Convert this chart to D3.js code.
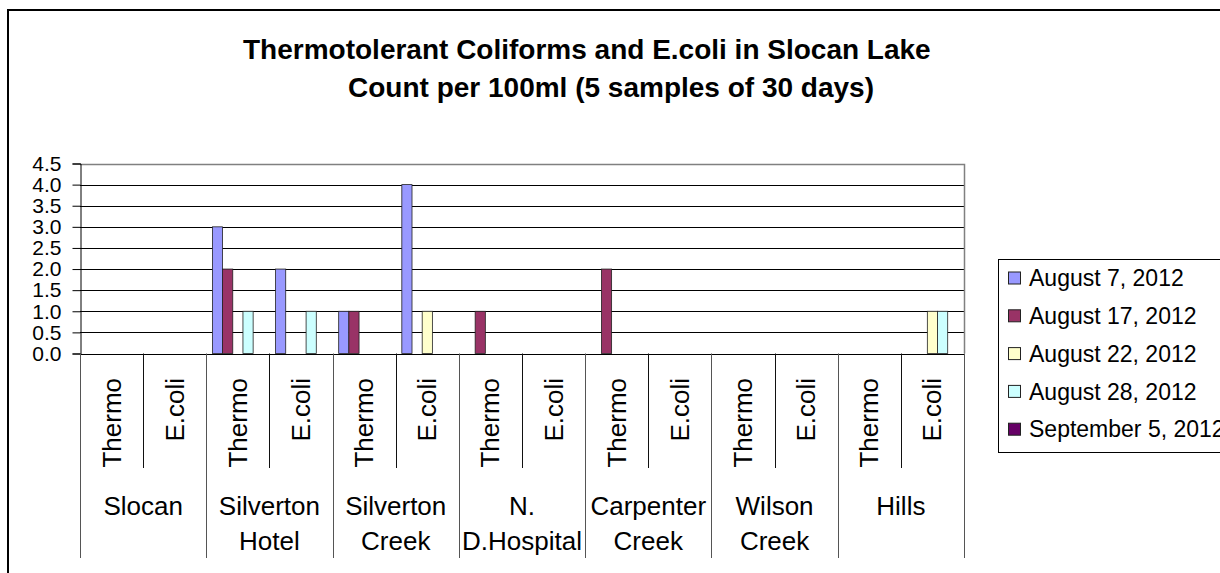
<!DOCTYPE html>
<html>
<head>
<meta charset="utf-8">
<style>
  body { margin: 0; background: #fff; }
  svg { font-family: "Liberation Sans", Arial, sans-serif; }
</style>
</head>
<body>
<svg width="1220" height="573"></svg>
<script src="https://cdnjs.cloudflare.com/ajax/libs/d3/7.8.5/d3.min.js"></script>
<script>
// data
var sites = [["Slocan"], ["Silverton", "Hotel"], ["Silverton", "Creek"], ["N.", "D.Hospital"],
             ["Carpenter", "Creek"], ["Wilson", "Creek"], ["Hills"]];
var measures = ["Thermo", "E.coli"];
var seriesNames = ["August 7, 2012", "August 17, 2012", "August 22, 2012", "August 28, 2012", "September 5, 2012"];
// one value per slot: site x measure (Thermo, E.coli)
var aug7  = [0, 0, 3, 2, 1, 4, 0, 0, 0, 0, 0, 0, 0, 0];
var aug17 = [0, 0, 2, 0, 1, 0, 1, 0, 2, 0, 0, 0, 0, 0];
var aug22 = [0, 0, 0, 0, 0, 1, 0, 0, 0, 0, 0, 0, 0, 1];
var aug28 = [0, 0, 1, 1, 0, 0, 0, 0, 0, 0, 0, 0, 0, 1];
var sep5  = [0, 0, 0, 0, 0, 0, 0, 0, 0, 0, 0, 0, 0, 0];
var yTicks = [0, 0.5, 1, 1.5, 2, 2.5, 3, 3.5, 4, 4.5];
var titleLines = ["Thermotolerant Coliforms and E.coli in Slocan Lake", "Count per 100ml (5 samples of 30 days)"];

var allSeries = [aug7, aug17, aug22, aug28, sep5];
var colors = ["#9999ff", "#993366", "#ffffcc", "#ccffff", "#660066"];

var svg = d3.select("svg");

// outer chart frame (runs off the right and bottom of the picture)
svg.append("rect")
  .attr("x", 8).attr("y", 10)
  .attr("width", 1400).attr("height", 800)
  .attr("fill", "#fff")
  .attr("stroke", "#000")
  .attr("stroke-width", 2);

// title
svg.append("text")
  .attr("x", 243).attr("y", 59)
  .style("font-size", "28px").style("font-weight", "bold")
  .text(titleLines[0]);
svg.append("text")
  .attr("x", 348).attr("y", 96.5)
  .style("font-size", "28px").style("font-weight", "bold")
  .text(titleLines[1]);

var pLeft = 80, pRight = 964, pTop = 163.5, pBottom = 353.5;

var slots = [];
sites.forEach(function(s, i) {
  measures.forEach(function(m) { slots.push(i + "|" + m); });
});

var x = d3.scaleBand().domain(slots).range([pLeft, pRight]);
var xs = d3.scaleBand().domain(d3.range(seriesNames.length))
  .range([0, x.bandwidth()]).paddingOuter(0.6);
var y = d3.scaleLinear().domain([0, 4.5]).range([pBottom, pTop]);

var g = svg.append("g");

// gridlines
g.selectAll(".grid")
  .data(yTicks.slice(1, -1))
  .enter().append("line")
  .attr("x1", pLeft).attr("x2", pRight)
  .attr("y1", function(d) { return Math.round(y(d)) + 0.5; })
  .attr("y2", function(d) { return Math.round(y(d)) + 0.5; })
  .attr("stroke", "#000");

// plot area border (top + right)
g.append("path")
  .attr("d", "M" + pLeft + "," + (Math.round(pTop) + 0.5) + "H" + (pRight + 0.5) + "V" + pBottom)
  .attr("fill", "none")
  .attr("stroke", "#808080")
  .attr("stroke-width", 1.5);

// bars
allSeries.forEach(function(vals, si) {
  g.selectAll(".bar" + si)
    .data(vals.map(function(v, i) { return { slot: slots[i], v: v }; }).filter(function(d) { return d.v > 0; }))
    .enter().append("rect")
    .attr("x", function(d) { return x(d.slot) + xs(si); })
    .attr("y", function(d) { return y(d.v); })
    .attr("width", xs.bandwidth())
    .attr("height", function(d) { return pBottom - y(d.v); })
    .attr("fill", colors[si])
    .attr("stroke", "#222")
    .attr("stroke-width", 0.8);
});

// y axis
var yAxis = g.append("g")
  .attr("transform", "translate(" + (pLeft + 0.5) + ",0)")
  .call(d3.axisLeft(y).tickValues(yTicks).tickFormat(d3.format(".1f")).tickSize(8).tickPadding(11));
yAxis.select(".domain").attr("stroke", "#000");
yAxis.selectAll(".tick line").attr("stroke", "#000");
yAxis.selectAll("text")
  .style("font-size", "21px")
  .style("font-family", "\"Liberation Sans\", Arial, sans-serif")
  .attr("fill", "#000");

// x axis baseline
g.append("line")
  .attr("x1", pLeft).attr("x2", pRight + 0.5)
  .attr("y1", Math.round(pBottom) + 0.5).attr("y2", Math.round(pBottom) + 0.5)
  .attr("stroke", "#000");

// dividers below axis
var bounds = d3.range(slots.length + 1);
g.selectAll(".div")
  .data(bounds)
  .enter().append("line")
  .attr("x1", function(i) { return Math.round(pLeft + i * x.step()) + 0.5; })
  .attr("x2", function(i) { return Math.round(pLeft + i * x.step()) + 0.5; })
  .attr("y1", pBottom)
  .attr("y2", function(i) { return i % 2 === 0 ? 558 : 468; })
  .attr("stroke", function(i) { return i % 2 === 0 ? "#555" : "#111"; });

// measure labels (rotated)
g.selectAll(".mlab")
  .data(slots)
  .enter().append("text")
  .attr("transform", function(d) {
    return "translate(" + (x(d) + x.bandwidth() / 2 + 9) + ",378) rotate(-90)";
  })
  .attr("text-anchor", "end")
  .style("font-size", "26px")
  .text(function(d) { return d.split("|")[1]; });

// site labels
var siteG = g.selectAll(".site")
  .data(sites)
  .enter().append("text")
  .attr("text-anchor", "middle")
  .style("font-size", "26px");
siteG.each(function(lines, i) {
  var cx = pLeft + (i * 2 + 1) * x.step();
  d3.select(this).selectAll("tspan")
    .data(lines)
    .enter().append("tspan")
    .attr("x", cx)
    .attr("y", function(d, j) { return 515 + j * 35; })
    .text(function(d) { return d; });
});

// legend
var lg = svg.append("g");
lg.append("rect")
  .attr("x", 998.5).attr("y", 259.5)
  .attr("width", 400).attr("height", 193)
  .attr("fill", "#fff")
  .attr("stroke", "#000");
var items = lg.selectAll(".item")
  .data(seriesNames)
  .enter().append("g")
  .attr("transform", function(d, i) { return "translate(0," + (278 + i * 37.8) + ")"; });
items.append("rect")
  .attr("x", 1008.5).attr("y", -6)
  .attr("width", 12).attr("height", 12)
  .attr("fill", function(d, i) { return colors[i]; })
  .attr("stroke", "#222");
items.append("text")
  .attr("x", 1029).attr("dy", "0.36em")
  .style("font-size", "23px")
  .text(function(d) { return d; });
</script>
</body>
</html>
